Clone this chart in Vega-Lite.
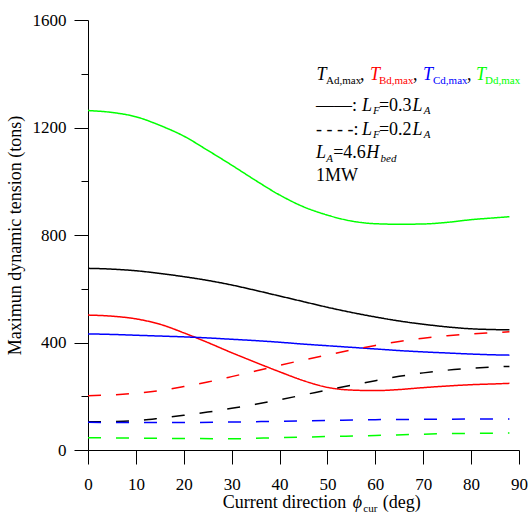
{
  "$schema": "https://vega.github.io/schema/vega-lite/v6.json",
  "autosize": "none",
  "width": 431,
  "height": 430,
  "padding": {"left": 88, "top": 20, "right": 10, "bottom": 64},
  "background": "white",
  "config": {
    "view": {"stroke": null},
    "axis": {"grid": false, "domainColor": "#000000", "tickColor": "#000000", "labelColor": "#000000", "titleColor": "#000000", "labelFont": "Liberation Serif", "titleFont": "Liberation Serif", "labelFontSize": 17, "titleFontSize": 18, "titleFontWeight": "normal", "domainWidth": 1, "tickWidth": 1},
    "text": {"font": "Liberation Serif", "align": "left", "baseline": "alphabetic", "fontSize": 18, "color": "#000000"}
  },
  "datasets": {
    "tension": [
      {"phi": 0, "T": 676, "cable": "A", "LF": "0.3"}, {"phi": 5, "T": 673, "cable": "A", "LF": "0.3"}, {"phi": 10, "T": 667, "cable": "A", "LF": "0.3"}, {"phi": 15, "T": 657, "cable": "A", "LF": "0.3"}, {"phi": 20, "T": 645, "cable": "A", "LF": "0.3"}, {"phi": 25, "T": 631, "cable": "A", "LF": "0.3"}, {"phi": 30, "T": 614, "cable": "A", "LF": "0.3"}, {"phi": 35, "T": 594, "cable": "A", "LF": "0.3"}, {"phi": 40, "T": 573, "cable": "A", "LF": "0.3"}, {"phi": 45, "T": 552, "cable": "A", "LF": "0.3"}, {"phi": 50, "T": 531, "cable": "A", "LF": "0.3"}, {"phi": 55, "T": 512, "cable": "A", "LF": "0.3"}, {"phi": 60, "T": 495, "cable": "A", "LF": "0.3"}, {"phi": 65, "T": 480, "cable": "A", "LF": "0.3"}, {"phi": 70, "T": 468, "cable": "A", "LF": "0.3"}, {"phi": 75, "T": 458, "cable": "A", "LF": "0.3"}, {"phi": 80, "T": 451, "cable": "A", "LF": "0.3"}, {"phi": 85, "T": 448, "cable": "A", "LF": "0.3"}, {"phi": 88, "T": 447, "cable": "A", "LF": "0.3"},
      {"phi": 0, "T": 502, "cable": "B", "LF": "0.3"}, {"phi": 5, "T": 498, "cable": "B", "LF": "0.3"}, {"phi": 10, "T": 488, "cable": "B", "LF": "0.3"}, {"phi": 15, "T": 468, "cable": "B", "LF": "0.3"}, {"phi": 20, "T": 436, "cable": "B", "LF": "0.3"}, {"phi": 25, "T": 400, "cable": "B", "LF": "0.3"}, {"phi": 30, "T": 362, "cable": "B", "LF": "0.3"}, {"phi": 35, "T": 326, "cable": "B", "LF": "0.3"}, {"phi": 40, "T": 291, "cable": "B", "LF": "0.3"}, {"phi": 45, "T": 258, "cable": "B", "LF": "0.3"}, {"phi": 50, "T": 233, "cable": "B", "LF": "0.3"}, {"phi": 55, "T": 223, "cable": "B", "LF": "0.3"}, {"phi": 60, "T": 221, "cable": "B", "LF": "0.3"}, {"phi": 65, "T": 225, "cable": "B", "LF": "0.3"}, {"phi": 70, "T": 232, "cable": "B", "LF": "0.3"}, {"phi": 75, "T": 238, "cable": "B", "LF": "0.3"}, {"phi": 80, "T": 243, "cable": "B", "LF": "0.3"}, {"phi": 85, "T": 246, "cable": "B", "LF": "0.3"}, {"phi": 88, "T": 248, "cable": "B", "LF": "0.3"},
      {"phi": 0, "T": 432, "cable": "C", "LF": "0.3"}, {"phi": 5, "T": 430, "cable": "C", "LF": "0.3"}, {"phi": 10, "T": 427, "cable": "C", "LF": "0.3"}, {"phi": 15, "T": 424, "cable": "C", "LF": "0.3"}, {"phi": 20, "T": 421, "cable": "C", "LF": "0.3"}, {"phi": 25, "T": 417, "cable": "C", "LF": "0.3"}, {"phi": 30, "T": 412, "cable": "C", "LF": "0.3"}, {"phi": 35, "T": 407, "cable": "C", "LF": "0.3"}, {"phi": 40, "T": 401, "cable": "C", "LF": "0.3"}, {"phi": 45, "T": 394, "cable": "C", "LF": "0.3"}, {"phi": 50, "T": 388, "cable": "C", "LF": "0.3"}, {"phi": 55, "T": 382, "cable": "C", "LF": "0.3"}, {"phi": 60, "T": 376, "cable": "C", "LF": "0.3"}, {"phi": 65, "T": 370, "cable": "C", "LF": "0.3"}, {"phi": 70, "T": 365, "cable": "C", "LF": "0.3"}, {"phi": 75, "T": 361, "cable": "C", "LF": "0.3"}, {"phi": 80, "T": 357, "cable": "C", "LF": "0.3"}, {"phi": 85, "T": 354, "cable": "C", "LF": "0.3"}, {"phi": 88, "T": 353, "cable": "C", "LF": "0.3"},
      {"phi": 0, "T": 1263, "cable": "D", "LF": "0.3"}, {"phi": 5, "T": 1256, "cable": "D", "LF": "0.3"}, {"phi": 10, "T": 1240, "cable": "D", "LF": "0.3"}, {"phi": 15, "T": 1208, "cable": "D", "LF": "0.3"}, {"phi": 20, "T": 1168, "cable": "D", "LF": "0.3"}, {"phi": 25, "T": 1115, "cable": "D", "LF": "0.3"}, {"phi": 30, "T": 1060, "cable": "D", "LF": "0.3"}, {"phi": 35, "T": 1003, "cable": "D", "LF": "0.3"}, {"phi": 40, "T": 949, "cable": "D", "LF": "0.3"}, {"phi": 45, "T": 905, "cable": "D", "LF": "0.3"}, {"phi": 50, "T": 874, "cable": "D", "LF": "0.3"}, {"phi": 55, "T": 852, "cable": "D", "LF": "0.3"}, {"phi": 60, "T": 842, "cable": "D", "LF": "0.3"}, {"phi": 65, "T": 840, "cable": "D", "LF": "0.3"}, {"phi": 70, "T": 841, "cable": "D", "LF": "0.3"}, {"phi": 75, "T": 847, "cable": "D", "LF": "0.3"}, {"phi": 80, "T": 857, "cable": "D", "LF": "0.3"}, {"phi": 85, "T": 864, "cable": "D", "LF": "0.3"}, {"phi": 88, "T": 868, "cable": "D", "LF": "0.3"},
      {"phi": 0, "T": 105, "cable": "A", "LF": "0.2"}, {"phi": 5, "T": 106, "cable": "A", "LF": "0.2"}, {"phi": 10, "T": 109, "cable": "A", "LF": "0.2"}, {"phi": 15, "T": 118, "cable": "A", "LF": "0.2"}, {"phi": 20, "T": 129, "cable": "A", "LF": "0.2"}, {"phi": 25, "T": 141, "cable": "A", "LF": "0.2"}, {"phi": 30, "T": 155, "cable": "A", "LF": "0.2"}, {"phi": 35, "T": 170, "cable": "A", "LF": "0.2"}, {"phi": 40, "T": 187, "cable": "A", "LF": "0.2"}, {"phi": 45, "T": 205, "cable": "A", "LF": "0.2"}, {"phi": 50, "T": 223, "cable": "A", "LF": "0.2"}, {"phi": 55, "T": 241, "cable": "A", "LF": "0.2"}, {"phi": 60, "T": 258, "cable": "A", "LF": "0.2"}, {"phi": 65, "T": 274, "cable": "A", "LF": "0.2"}, {"phi": 70, "T": 287, "cable": "A", "LF": "0.2"}, {"phi": 75, "T": 297, "cable": "A", "LF": "0.2"}, {"phi": 80, "T": 304, "cable": "A", "LF": "0.2"}, {"phi": 85, "T": 309, "cable": "A", "LF": "0.2"}, {"phi": 88, "T": 311, "cable": "A", "LF": "0.2"},
      {"phi": 0, "T": 202, "cable": "B", "LF": "0.2"}, {"phi": 5, "T": 205, "cable": "B", "LF": "0.2"}, {"phi": 10, "T": 211, "cable": "B", "LF": "0.2"}, {"phi": 15, "T": 221, "cable": "B", "LF": "0.2"}, {"phi": 20, "T": 236, "cable": "B", "LF": "0.2"}, {"phi": 25, "T": 253, "cable": "B", "LF": "0.2"}, {"phi": 30, "T": 273, "cable": "B", "LF": "0.2"}, {"phi": 35, "T": 294, "cable": "B", "LF": "0.2"}, {"phi": 40, "T": 315, "cable": "B", "LF": "0.2"}, {"phi": 45, "T": 335, "cable": "B", "LF": "0.2"}, {"phi": 50, "T": 354, "cable": "B", "LF": "0.2"}, {"phi": 55, "T": 372, "cable": "B", "LF": "0.2"}, {"phi": 60, "T": 389, "cable": "B", "LF": "0.2"}, {"phi": 65, "T": 404, "cable": "B", "LF": "0.2"}, {"phi": 70, "T": 416, "cable": "B", "LF": "0.2"}, {"phi": 75, "T": 425, "cable": "B", "LF": "0.2"}, {"phi": 80, "T": 432, "cable": "B", "LF": "0.2"}, {"phi": 85, "T": 437, "cable": "B", "LF": "0.2"}, {"phi": 88, "T": 440, "cable": "B", "LF": "0.2"},
      {"phi": 0, "T": 103, "cable": "C", "LF": "0.2"}, {"phi": 10, "T": 102, "cable": "C", "LF": "0.2"}, {"phi": 20, "T": 102, "cable": "C", "LF": "0.2"}, {"phi": 30, "T": 104, "cable": "C", "LF": "0.2"}, {"phi": 40, "T": 107, "cable": "C", "LF": "0.2"}, {"phi": 50, "T": 110, "cable": "C", "LF": "0.2"}, {"phi": 60, "T": 113, "cable": "C", "LF": "0.2"}, {"phi": 70, "T": 114, "cable": "C", "LF": "0.2"}, {"phi": 80, "T": 115, "cable": "C", "LF": "0.2"}, {"phi": 88, "T": 115, "cable": "C", "LF": "0.2"},
      {"phi": 0, "T": 46, "cable": "D", "LF": "0.2"}, {"phi": 10, "T": 44, "cable": "D", "LF": "0.2"}, {"phi": 20, "T": 43, "cable": "D", "LF": "0.2"}, {"phi": 30, "T": 42, "cable": "D", "LF": "0.2"}, {"phi": 40, "T": 46, "cable": "D", "LF": "0.2"}, {"phi": 50, "T": 50, "cable": "D", "LF": "0.2"}, {"phi": 60, "T": 54, "cable": "D", "LF": "0.2"}, {"phi": 70, "T": 59, "cable": "D", "LF": "0.2"}, {"phi": 80, "T": 62, "cable": "D", "LF": "0.2"}, {"phi": 88, "T": 63, "cable": "D", "LF": "0.2"}
    ]
  },
  "data": {"values": [{}]},
  "layer": [
    {
      "data": {"name": "tension"},
      "mark": {"type": "line", "interpolate": "monotone", "strokeWidth": 1.5},
      "encoding": {
        "x": {"field": "phi", "type": "quantitative", "scale": {"domain": [0, 90], "nice": false},
              "axis": {"values": [0,5,10,15,20,25,30,35,40,45,50,55,60,65,70,75,80,85,90], "format": "d", "labelExpr": "datum.value % 10 === 0 ? datum.label : ''", "tickSize": {"condition": {"test": "datum.value % 10 === 0", "value": 14}, "value": 7}, "labelPadding": 12, "labelFlush": false, "labelOverlap": false, "labelFont": "Liberation Serif", "labelFontSize": 17, "title": null}},
        "y": {"field": "T", "type": "quantitative", "scale": {"domain": [0, 1600], "nice": false},
              "axis": {"values": [0,200,400,600,800,1000,1200,1400,1600], "format": "d", "labelExpr": "datum.value % 400 === 0 ? datum.label : ''", "tickSize": {"condition": {"test": "datum.value % 400 === 0", "value": 14}, "value": 7}, "labelPadding": 8, "labelOverlap": false, "labelFont": "Liberation Serif", "labelFontSize": 17, "title": "Maximun dynamic tension (tons)", "titleFont": "Liberation Serif", "titleFontSize": 18, "titlePadding": 8}},
        "color": {"field": "cable", "type": "nominal", "scale": {"domain": ["A","B","C","D"], "range": ["#000000","#ff0000","#0000ff","#00ff00"]}, "legend": null},
        "strokeDash": {"field": "LF", "type": "nominal", "scale": {"domain": ["0.3","0.2"], "range": [[1,0],[13,15]]}, "legend": null}
      }
    },
    {"mark": {"type": "text", "text": "T", "fontStyle": "italic", "color": "#000000"}, "encoding": {"x": {"datum": 47.74, "type": "quantitative"}, "y": {"datum": 1376.7, "type": "quantitative"}}},
    {"mark": {"type": "text", "text": "Ad,max", "fontSize": 11, "color": "#000000"}, "encoding": {"x": {"datum": 49.7, "type": "quantitative"}, "y": {"datum": 1360.7, "type": "quantitative"}}},
    {"mark": {"type": "text", "text": ",", "color": "#000000"}, "encoding": {"x": {"datum": 56.8, "type": "quantitative"}, "y": {"datum": 1376.7, "type": "quantitative"}}},
    {"mark": {"type": "text", "text": "T", "fontStyle": "italic", "color": "#ff0000"}, "encoding": {"x": {"datum": 58.88, "type": "quantitative"}, "y": {"datum": 1376.7, "type": "quantitative"}}},
    {"mark": {"type": "text", "text": "Bd,max", "fontSize": 11, "color": "#ff0000"}, "encoding": {"x": {"datum": 60.76, "type": "quantitative"}, "y": {"datum": 1360.7, "type": "quantitative"}}},
    {"mark": {"type": "text", "text": ",", "color": "#000000"}, "encoding": {"x": {"datum": 67.86, "type": "quantitative"}, "y": {"datum": 1376.7, "type": "quantitative"}}},
    {"mark": {"type": "text", "text": "T", "fontStyle": "italic", "color": "#0000ff"}, "encoding": {"x": {"datum": 69.95, "type": "quantitative"}, "y": {"datum": 1376.7, "type": "quantitative"}}},
    {"mark": {"type": "text", "text": "Cd,max", "fontSize": 11, "color": "#0000ff"}, "encoding": {"x": {"datum": 72.04, "type": "quantitative"}, "y": {"datum": 1360.7, "type": "quantitative"}}},
    {"mark": {"type": "text", "text": ",", "color": "#000000"}, "encoding": {"x": {"datum": 79.14, "type": "quantitative"}, "y": {"datum": 1376.7, "type": "quantitative"}}},
    {"mark": {"type": "text", "text": "T", "fontStyle": "italic", "color": "#00ff00"}, "encoding": {"x": {"datum": 81.02, "type": "quantitative"}, "y": {"datum": 1376.7, "type": "quantitative"}}},
    {"mark": {"type": "text", "text": "Dd,max", "fontSize": 11, "color": "#00ff00"}, "encoding": {"x": {"datum": 82.9, "type": "quantitative"}, "y": {"datum": 1360.7, "type": "quantitative"}}},

    {"mark": {"type": "text", "text": "——:"}, "encoding": {"x": {"datum": 47.61, "type": "quantitative"}, "y": {"datum": 1261.4, "type": "quantitative"}}},
    {"mark": {"type": "text", "text": "L", "fontStyle": "italic"}, "encoding": {"x": {"datum": 57.21, "type": "quantitative"}, "y": {"datum": 1261.4, "type": "quantitative"}}},
    {"mark": {"type": "text", "text": "F", "fontStyle": "italic", "fontSize": 11}, "encoding": {"x": {"datum": 59.51, "type": "quantitative"}, "y": {"datum": 1249.1, "type": "quantitative"}}},
    {"mark": {"type": "text", "text": "=0.3"}, "encoding": {"x": {"datum": 60.76, "type": "quantitative"}, "y": {"datum": 1261.4, "type": "quantitative"}}},
    {"mark": {"type": "text", "text": "L", "fontStyle": "italic"}, "encoding": {"x": {"datum": 67.75, "type": "quantitative"}, "y": {"datum": 1261.4, "type": "quantitative"}}},
    {"mark": {"type": "text", "text": "A", "fontStyle": "italic", "fontSize": 11}, "encoding": {"x": {"datum": 70.1, "type": "quantitative"}, "y": {"datum": 1249.1, "type": "quantitative"}}},

    {"mark": {"type": "text", "text": "- - - -:"}, "encoding": {"x": {"datum": 47.61, "type": "quantitative"}, "y": {"datum": 1173.9, "type": "quantitative"}}},
    {"mark": {"type": "text", "text": "L", "fontStyle": "italic"}, "encoding": {"x": {"datum": 57.21, "type": "quantitative"}, "y": {"datum": 1173.9, "type": "quantitative"}}},
    {"mark": {"type": "text", "text": "F", "fontStyle": "italic", "fontSize": 11}, "encoding": {"x": {"datum": 59.51, "type": "quantitative"}, "y": {"datum": 1160.9, "type": "quantitative"}}},
    {"mark": {"type": "text", "text": "=0.2"}, "encoding": {"x": {"datum": 60.76, "type": "quantitative"}, "y": {"datum": 1173.9, "type": "quantitative"}}},
    {"mark": {"type": "text", "text": "L", "fontStyle": "italic"}, "encoding": {"x": {"datum": 67.75, "type": "quantitative"}, "y": {"datum": 1173.9, "type": "quantitative"}}},
    {"mark": {"type": "text", "text": "A", "fontStyle": "italic", "fontSize": 11}, "encoding": {"x": {"datum": 70.1, "type": "quantitative"}, "y": {"datum": 1160.9, "type": "quantitative"}}},

    {"mark": {"type": "text", "text": "L", "fontStyle": "italic"}, "encoding": {"x": {"datum": 47.61, "type": "quantitative"}, "y": {"datum": 1084.7, "type": "quantitative"}}},
    {"mark": {"type": "text", "text": "A", "fontStyle": "italic", "fontSize": 11}, "encoding": {"x": {"datum": 49.75, "type": "quantitative"}, "y": {"datum": 1071.6, "type": "quantitative"}}},
    {"mark": {"type": "text", "text": "=4.6"}, "encoding": {"x": {"datum": 51.2, "type": "quantitative"}, "y": {"datum": 1084.7, "type": "quantitative"}}},
    {"mark": {"type": "text", "text": "H", "fontStyle": "italic"}, "encoding": {"x": {"datum": 58.1, "type": "quantitative"}, "y": {"datum": 1084.7, "type": "quantitative"}}},
    {"mark": {"type": "text", "text": "bed", "fontStyle": "italic", "fontSize": 11}, "encoding": {"x": {"datum": 61.1, "type": "quantitative"}, "y": {"datum": 1071.6, "type": "quantitative"}}},

    {"mark": {"type": "text", "text": "1MW"}, "encoding": {"x": {"datum": 47.61, "type": "quantitative"}, "y": {"datum": 999.1, "type": "quantitative"}}},

    {"mark": {"type": "text", "text": "Current direction"}, "encoding": {"x": {"datum": 28.13, "type": "quantitative"}, "y": {"datum": -216, "type": "quantitative"}}},
    {"mark": {"type": "text", "text": "ϕ", "fontStyle": "italic"}, "encoding": {"x": {"datum": 55.27, "type": "quantitative"}, "y": {"datum": -216, "type": "quantitative"}}},
    {"mark": {"type": "text", "text": "cur", "fontSize": 11}, "encoding": {"x": {"datum": 57.49, "type": "quantitative"}, "y": {"datum": -231, "type": "quantitative"}}},
    {"mark": {"type": "text", "text": "(deg)"}, "encoding": {"x": {"datum": 61.54, "type": "quantitative"}, "y": {"datum": -216, "type": "quantitative"}}}
  ]
}
